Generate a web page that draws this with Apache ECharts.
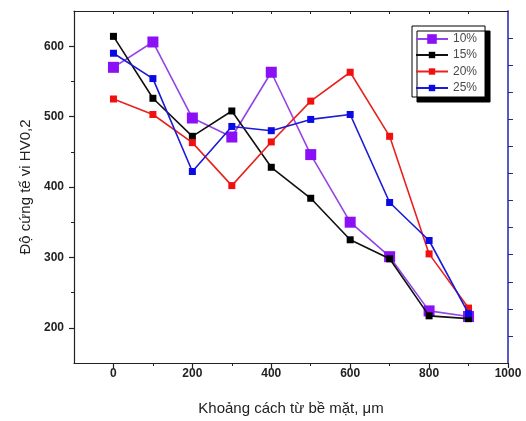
<!DOCTYPE html>
<html>
<head>
<meta charset="utf-8">
<script src="https://cdn.jsdelivr.net/npm/echarts@6/dist/echarts.min.js"></script>
<style>html,body{margin:0;padding:0;background:#fff}#c{width:526px;height:421px}</style>
</head>
<body>
<div id="c"></div>
<script>
var distances = [0, 100, 200, 300, 400, 500, 600, 700, 800, 900];
var hv10 = [570, 606, 498, 471, 563, 446, 350, 301, 224, 216];
var hv15 = [614, 526, 472, 508, 428, 384, 325, 298, 217, 213];
var hv20 = [525, 503, 463, 402, 464, 522, 563, 472, 305, 228];
var hv25 = [590, 554, 422, 486, 480, 496, 503, 378, 324, 220];
var seriesNames = ['10%', '15%', '20%', '25%'];
var xMajorTicks = [0, 200, 400, 600, 800, 1000];
var xMinorTicks = [100, 300, 500, 700, 900];
var xTopTicks = [0, 100, 200, 300, 400, 500, 600, 700, 800, 900];
var yMajorTicks = [200, 300, 400, 500, 600];
var yMinorTicks = [250, 350, 450, 550];
var rightTicks = [1, 2, 3, 4, 5, 6, 7, 8, 9, 10, 11, 12];

function pairs(vals) { return distances.map(function (d, i) { return [d, vals[i]]; }); }

var FONT = '"Liberation Sans", Arial, sans-serif';
var chart = echarts.init(document.getElementById('c'), null, { renderer: 'canvas' });

var styles = [
  { c: '#8a10f5', l: '#9444e6', s: 11 },
  { c: '#000000', l: '#111111', s: 7 },
  { c: '#f01010', l: '#e8231f', s: 7 },
  { c: '#0a0ae6', l: '#1a1ad8', s: 7 }
];
var allData = [hv10, hv15, hv20, hv25];
var legendText = { fontFamily: FONT, fontSize: 12, color: '#4a4a4a' };
function plain(v) { return String(v); }

chart.setOption({
  animation: false,
  backgroundColor: '#fff',
  grid: { left: 74, top: 11, right: 18, bottom: 58 },
  legend: [
    {
      orient: 'vertical',
      left: 412, top: 26,
      padding: [23, 8, 3, 3],
      itemWidth: 32, itemHeight: 8, itemGap: 4.5,
      backgroundColor: '#fff',
      borderColor: '#000', borderWidth: 1,
      shadowColor: '#000', shadowBlur: 0, shadowOffsetX: 5, shadowOffsetY: 5,
      textStyle: legendText,
      data: seriesNames.slice(1),
      z: 4
    },
    {
      orient: 'vertical',
      left: 412, top: 33,
      padding: [0, 8, 0, 3],
      itemWidth: 32, itemHeight: 12,
      textStyle: legendText,
      data: seriesNames.slice(0, 1),
      z: 5
    }
  ],
  xAxis: [
    {
      type: 'value', position: 'bottom', min: -100, max: 1000,
      name: 'Khoảng cách từ bề mặt, μm', nameLocation: 'middle', nameGap: 38,
      nameTextStyle: { fontFamily: FONT, fontSize: 15, color: '#222' },
      axisLine: { show: true, onZero: false, lineStyle: { color: '#222', width: 1.2 } },
      axisTick: { show: true, length: 5, inside: false, customValues: xMajorTicks, lineStyle: { color: '#222', width: 1.2 } },
      axisLabel: { customValues: xMajorTicks, formatter: plain, margin: 5, fontFamily: FONT, fontWeight: 'bold', fontSize: 12, color: '#222' },
      splitLine: { show: false }
    },
    {
      type: 'value', position: 'bottom', min: -100, max: 1000,
      axisLine: { show: false, onZero: false },
      axisTick: { show: true, length: 3, customValues: xMinorTicks, lineStyle: { color: '#222', width: 1 } },
      axisLabel: { show: false, customValues: xMinorTicks },
      splitLine: { show: false }
    },
    {
      type: 'value', position: 'top', min: -100, max: 1000,
      axisLine: { show: true, onZero: false, lineStyle: { color: '#222', width: 1.2 } },
      axisTick: { show: true, inside: true, length: 3, customValues: xTopTicks, lineStyle: { color: '#222', width: 1 } },
      axisLabel: { show: false, customValues: xTopTicks },
      splitLine: { show: false }
    }
  ],
  yAxis: [
    {
      type: 'value', position: 'left', min: 150, max: 650,
      name: 'Độ cứng tế vi HV0,2', nameLocation: 'middle', nameGap: 38, nameRotate: 90,
      nameTextStyle: { fontFamily: FONT, fontSize: 15, color: '#222' },
      axisLine: { show: true, onZero: false, lineStyle: { color: '#222', width: 1.2 } },
      axisTick: { show: true, length: 5, customValues: yMajorTicks, lineStyle: { color: '#222', width: 1.2 } },
      axisLabel: { customValues: yMajorTicks, formatter: plain, margin: 10, fontFamily: FONT, fontWeight: 'bold', fontSize: 12, color: '#222' },
      splitLine: { show: false }
    },
    {
      type: 'value', position: 'left', min: 150, max: 650,
      axisLine: { show: false, onZero: false },
      axisTick: { show: true, length: 3, customValues: yMinorTicks, lineStyle: { color: '#222', width: 1 } },
      axisLabel: { show: false, customValues: yMinorTicks },
      splitLine: { show: false }
    },
    {
      type: 'value', position: 'right', min: 0, max: 13,
      axisLine: { show: true, onZero: false, lineStyle: { color: '#2222b4', width: 1.5 } },
      axisTick: { show: true, length: 5, customValues: rightTicks, lineStyle: { color: '#2222b4', width: 1 } },
      axisLabel: { show: false, customValues: rightTicks },
      splitLine: { show: false }
    }
  ],
  series: seriesNames.map(function (n, i) {
    return {
      name: n, type: 'line', xAxisIndex: 0, yAxisIndex: 0,
      data: pairs(allData[i]),
      symbol: 'rect', symbolSize: styles[i].s,
      itemStyle: { color: styles[i].c },
      lineStyle: { color: styles[i].l, width: 1.6 },
      z: 2 + i
    };
  })
});
</script>
</body>
</html>
